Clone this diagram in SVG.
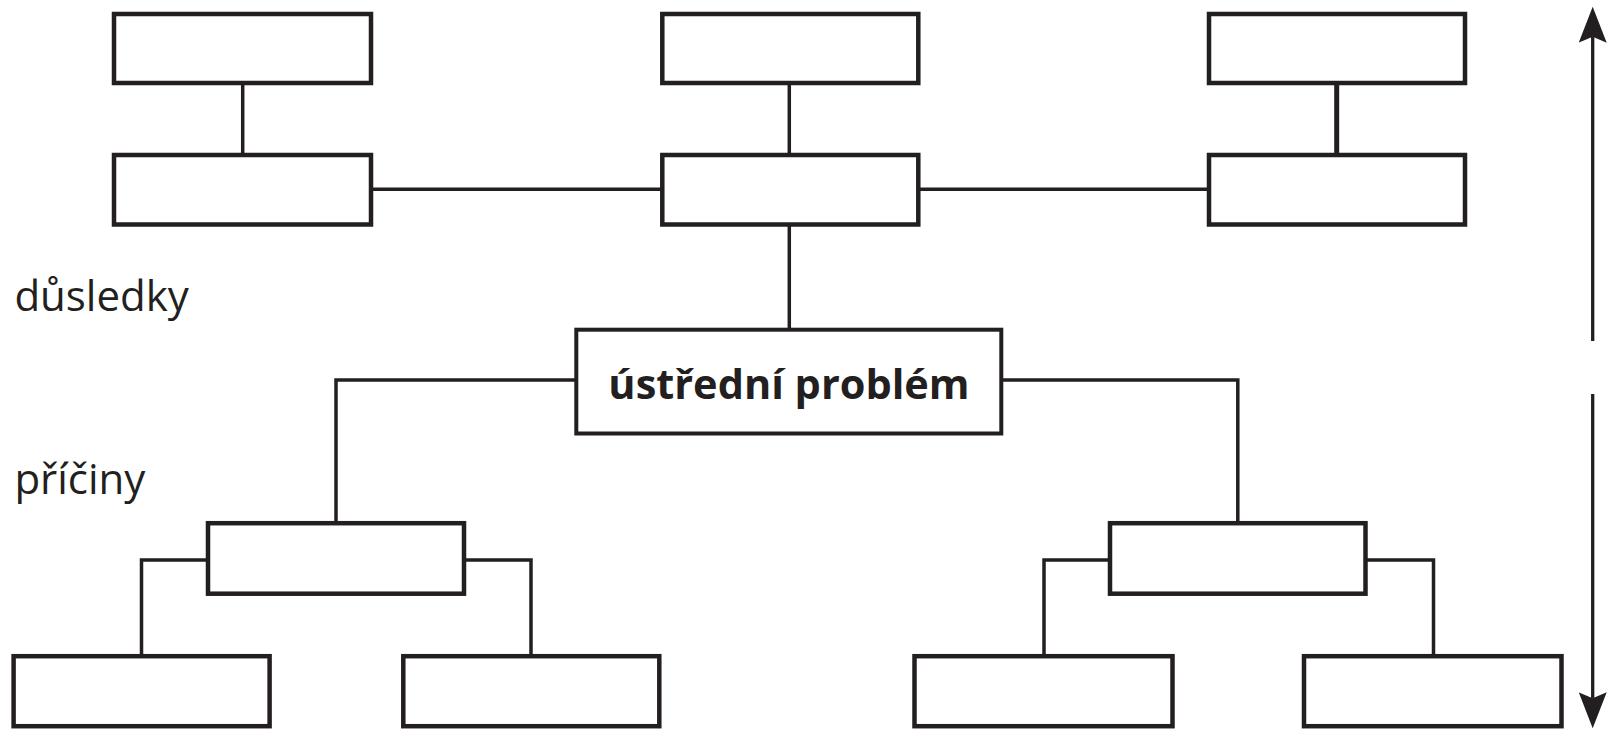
<svg xmlns="http://www.w3.org/2000/svg" width="1612" height="729" viewBox="0 0 1612 729">
  <style>
    .box { fill: #ffffff; stroke: #231f20; stroke-width: 4.5; }
    .main { fill: #ffffff; stroke: #231f20; stroke-width: 4; }
    .conn { fill: none; stroke: #231f20; stroke-width: 3.5; stroke-linejoin: miter; stroke-linecap: butt; }
    .axis { fill: none; stroke: #231f20; stroke-width: 3.3; }
    .lbl { font-family: "Open Sans", "Noto Sans", "DejaVu Sans", sans-serif; font-size: 42px; fill: #231f20; }
    .title { font-family: "Open Sans", "Noto Sans", "DejaVu Sans", sans-serif; font-size: 41.5px; font-weight: bold; fill: #231f20; }
  </style>
  <defs>
    <marker id="arrow" viewBox="0 0 36 28" markerUnits="userSpaceOnUse" markerWidth="36" markerHeight="28" refX="6" refY="14" orient="auto">
      <path d="M0,0 L36,14 L0,28 L6,14 Z" fill="#231f20"/>
    </marker>
  </defs>
  <rect width="1612" height="729" fill="#ffffff"/>

  <g id="connectors">
    <path class="conn" d="M242.7,85 V153"/>
    <path class="conn" d="M789.3,85 V153"/>
    <path class="conn" d="M1336.7,85 V153" style="stroke-width:5"/>
    <path class="conn" d="M373,189.3 H661"/>
    <path class="conn" d="M920,189.3 H1207"/>
    <path class="conn" d="M789.3,226 V328"/>
    <path class="conn" d="M575,380 H336 V522"/>
    <path class="conn" d="M1003,380 H1237.8 V522"/>
    <path class="conn" d="M206.5,560 H141.5 V655"/>
    <path class="conn" d="M465.5,560 H531 V655"/>
    <path class="conn" d="M1108.5,560 H1044 V655"/>
    <path class="conn" d="M1367,560 H1433.5 V655"/>
  </g>

  <g id="axis">
    <line class="axis" x1="1592.7" y1="341" x2="1592.7" y2="36.7" marker-end="url(#arrow)"/>
    <line class="axis" x1="1592.7" y1="394" x2="1592.7" y2="698.3" marker-end="url(#arrow)"/>
  </g>

  <g id="effect-top-left"><rect class="box" x="114" y="14" width="257" height="69"/></g>
  <g id="effect-top-mid"><rect class="box" x="662.3" y="14" width="256" height="69"/></g>
  <g id="effect-top-right"><rect class="box" x="1209" y="14" width="256" height="69"/></g>
  <g id="effect-left"><rect class="box" x="114" y="155" width="257" height="69.5"/></g>
  <g id="effect-mid"><rect class="box" x="662.3" y="155" width="256" height="69.5"/></g>
  <g id="effect-right"><rect class="box" x="1209" y="155" width="256" height="69.5"/></g>

  <g id="core-problem">
    <rect class="main" x="576.3" y="329.7" width="425" height="103.8"/>
    <text class="title" x="789" y="399" text-anchor="middle">ústřední problém</text>
  </g>

  <g id="cause-left"><rect class="box" x="208" y="523.2" width="256" height="70.5"/></g>
  <g id="cause-right"><rect class="box" x="1110" y="523.2" width="255.5" height="70.5"/></g>
  <g id="cause-ll"><rect class="box" x="13.6" y="656.2" width="256" height="70"/></g>
  <g id="cause-lr"><rect class="box" x="403.3" y="656.2" width="256" height="70"/></g>
  <g id="cause-rl"><rect class="box" x="914.5" y="656.2" width="258" height="70"/></g>
  <g id="cause-rr"><rect class="box" x="1304" y="656.2" width="257.5" height="70"/></g>

  <g id="labels">
    <text class="lbl" x="14.4" y="311">důsledky</text>
    <text class="lbl" x="14.4" y="494">příčiny</text>
  </g>
</svg>
